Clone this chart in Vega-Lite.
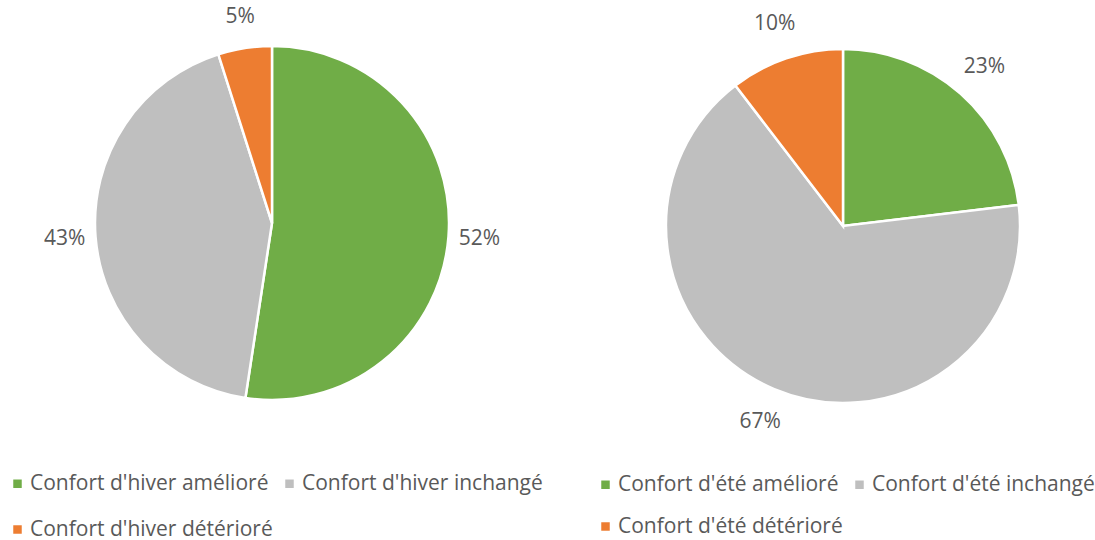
{
  "$schema": "https://vega.github.io/schema/vega-lite/v6.json",
  "padding": 0,
  "background": "white",
  "spacing": 48,
  "bounds": "flush",
  "config": {
    "view": {"stroke": null},
    "font": "Open Sans",
    "legend": {
      "orient": "none",
      "title": null,
      "columns": 2,
      "direction": "horizontal",
      "symbolType": "square",
      "symbolSize": 72,
      "symbolStrokeWidth": 0,
      "labelFont": "Open Sans",
      "labelFontSize": 21,
      "labelColor": "#595959",
      "labelOffset": 2,
      "labelLimit": 500,
      "columnPadding": 6,
      "rowPadding": 24,
      "padding": 0
    }
  },
  "datasets": {
    "hiver": [
      {"categorie": "Confort d'hiver amélioré", "part": 52.4, "label": "52%", "ordre": 1},
      {"categorie": "Confort d'hiver inchangé", "part": 42.7, "label": "43%", "ordre": 2},
      {"categorie": "Confort d'hiver détérioré", "part": 4.9, "label": "5%", "ordre": 3}
    ],
    "ete": [
      {"categorie": "Confort d'été amélioré", "part": 23.1, "label": "23%", "ordre": 1},
      {"categorie": "Confort d'été inchangé", "part": 66.5, "label": "67%", "ordre": 2},
      {"categorie": "Confort d'été détérioré", "part": 10.4, "label": "10%", "ordre": 3}
    ]
  },
  "hconcat": [
    {
      "width": 544,
      "height": 446,
      "data": {"name": "hiver"},
      "encoding": {
        "theta": {"field": "part", "type": "quantitative", "stack": true},
        "order": {"field": "ordre", "type": "quantitative"}
      },
      "layer": [
        {
          "mark": {"type": "arc", "outerRadius": 177, "stroke": "white", "strokeWidth": 2.5},
          "encoding": {
            "color": {
              "field": "categorie",
              "type": "nominal",
              "sort": ["Confort d'hiver amélioré", "Confort d'hiver inchangé", "Confort d'hiver détérioré"],
              "scale": {"domain": ["Confort d'hiver amélioré", "Confort d'hiver inchangé", "Confort d'hiver détérioré"], "range": ["#70AD47", "#BFBFBF", "#ED7D31"]},
              "legend": {"legendX": 7, "legendY": 473}
            }
          }
        },
        {
          "mark": {"type": "text", "radius": 208, "fontSize": 21, "color": "#595959", "font": "Open Sans"},
          "encoding": {"text": {"field": "label"}}
        }
      ]
    },
    {
      "width": 502,
      "height": 452,
      "data": {"name": "ete"},
      "encoding": {
        "theta": {"field": "part", "type": "quantitative", "stack": true},
        "order": {"field": "ordre", "type": "quantitative"}
      },
      "layer": [
        {
          "mark": {"type": "arc", "outerRadius": 177, "stroke": "white", "strokeWidth": 2.5},
          "encoding": {
            "color": {
              "field": "categorie",
              "type": "nominal",
              "sort": ["Confort d'été amélioré", "Confort d'été inchangé", "Confort d'été détérioré"],
              "scale": {"domain": ["Confort d'été amélioré", "Confort d'été inchangé", "Confort d'été détérioré"], "range": ["#70AD47", "#BFBFBF", "#ED7D31"]},
              "legend": {"legendX": 3, "legendY": 474, "rowPadding": 20}
            }
          }
        },
        {
          "mark": {"type": "text", "radius": 213, "fontSize": 21, "color": "#595959", "font": "Open Sans"},
          "encoding": {"text": {"field": "label"}}
        }
      ]
    }
  ],
  "resolve": {"scale": {"color": "independent", "theta": "independent"}}
}
